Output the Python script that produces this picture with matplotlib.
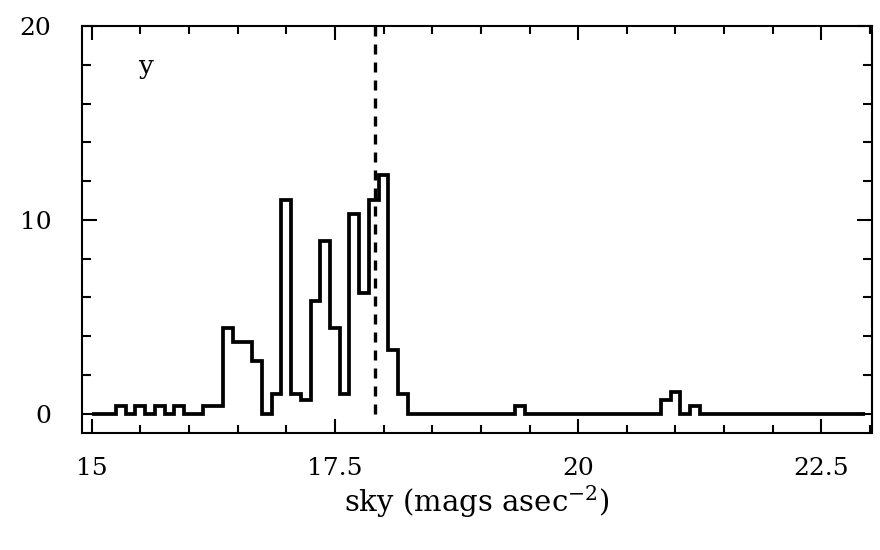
import numpy as np
import matplotlib
matplotlib.use("Agg")
import matplotlib.pyplot as plt
from matplotlib.ticker import MultipleLocator

# histogram of sky brightness, bins of 0.1 mag starting at 15.05
bin_start = 15.05
bin_width = 0.1
counts = [
    0, 0, 0.4, 0, 0.4, 0, 0.4, 0, 0.4, 0,          # 15.1 - 16.0
    0, 0.4, 0.4, 4.4, 3.7, 3.7, 2.7, 0, 1.0, 11.0,  # 16.1 - 17.0
    1.0, 0.7, 5.8, 8.9, 4.4, 1.0, 10.3, 6.2, 11.0, 12.3,  # 17.1 - 18.0
    3.3, 1.0, 0, 0, 0, 0, 0, 0, 0, 0,              # 18.1 - 19.0
    0, 0, 0, 0.4, 0, 0, 0, 0, 0, 0,                # 19.1 - 20.0
    0, 0, 0, 0, 0, 0, 0, 0, 0.7, 1.1,              # 20.1 - 21.0
    0, 0.4, 0, 0, 0, 0, 0, 0, 0, 0,                # 21.1 - 22.0
    0, 0, 0, 0, 0, 0, 0, 0, 0,                     # 22.1 - 22.9
]
median_sky = 17.91
band = "y"

x_ticks = [15, 17.5, 20, 22.5]
x_labels = ["15", "17.5", "20", "22.5"]
y_ticks = [0, 10, 20]

counts = np.array(counts)
edges = bin_start + bin_width * np.arange(len(counts) + 1)
edges[0] = 15.0

plt.rcParams['font.family'] = ['DejaVu Serif']
plt.rcParams['mathtext.fontset'] = 'dejavuserif'

fig = plt.figure(figsize=(8.8, 5.5), dpi=100)
ax = fig.add_axes([0.093, 0.2127, 0.898, 0.740])

ax.stairs(counts, edges, color="black", linewidth=2.7, baseline=None)
ax.vlines(median_sky, 0, 20, colors="black", linewidth=2.4,
          linestyles=(0, (3.0, 2.4)))

ax.set_xlim(14.9, 23.02)
ax.set_ylim(-1, 20)
ax.set_xticks(x_ticks)
ax.set_xticklabels(x_labels)
ax.set_yticks(y_ticks)
ax.xaxis.set_minor_locator(MultipleLocator(0.5))
ax.yaxis.set_minor_locator(MultipleLocator(2))

ax.tick_params(which="both", direction="in", top=True, right=True,
               width=1.5, labelsize=18, colors="black")
ax.tick_params(axis="x", which="major", length=10, pad=17)
ax.tick_params(axis="x", which="minor", length=6)
ax.tick_params(axis="y", which="major", length=11, pad=22)
ax.tick_params(axis="y", which="minor", length=6.5)
for s in ax.spines.values():
    s.set_linewidth(1.5)

ax.text(0.081, 0.9, band, transform=ax.transAxes, fontsize=19,
        ha="center", va="center")
ax.set_xlabel("sky (mags asec$^{-2}$)", fontsize=21, labelpad=3)

fig.savefig("out.png", dpi=100, facecolor="white")
